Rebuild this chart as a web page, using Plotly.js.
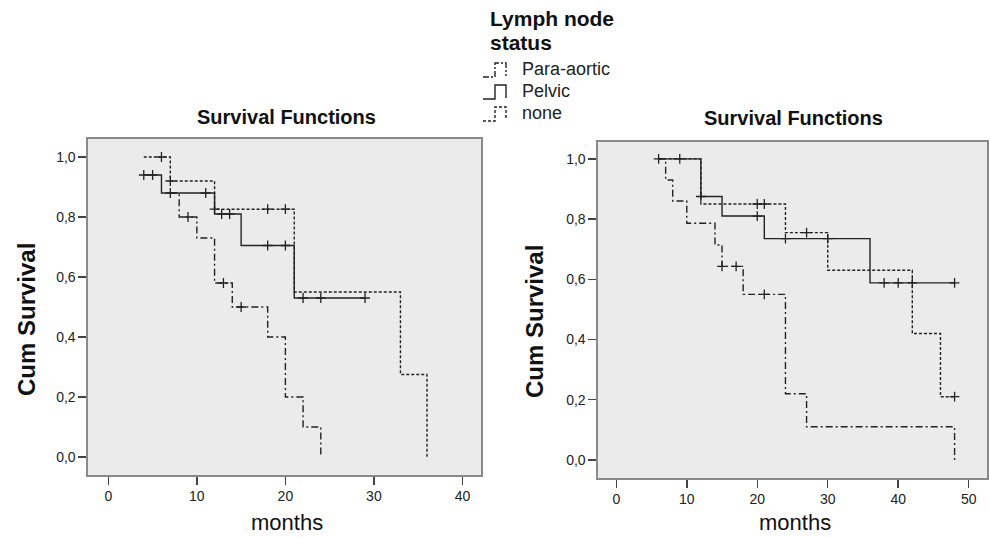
<!DOCTYPE html>
<html>
<head>
<meta charset="utf-8">
<script src="https://cdn.plot.ly/plotly-3.0.1.min.js"></script>
<style>html,body{margin:0;padding:0;background:#fff}#chart{width:990px;height:538px}</style>
</head>
<body>
<div id="chart"></div>
<script>
// ---------- data ----------
// Left panel
const leftParaTime   = [7, 8, 10, 12, 14, 18, 20, 22, 24];
const leftParaSurv   = [0.88, 0.80, 0.73, 0.58, 0.50, 0.40, 0.20, 0.10, 0.0];
const leftParaCensT  = [9, 13, 15];
const leftParaCensS  = [0.80, 0.58, 0.50];

const leftPelvTime   = [4, 6, 12, 15, 21, 29];
const leftPelvSurv   = [0.94, 0.88, 0.81, 0.705, 0.53, 0.53];
const leftPelvCensT  = [4, 5, 7, 11, 12.8, 13.7, 18, 20, 22, 24, 29];
const leftPelvCensS  = [0.94, 0.94, 0.88, 0.88, 0.81, 0.81, 0.705, 0.705, 0.53, 0.53, 0.53];

const leftNoneTime   = [4, 7, 12, 21, 33, 36];
const leftNoneSurv   = [1.0, 0.92, 0.826, 0.55, 0.275, 0.0];
const leftNoneCensT  = [6, 7, 12, 18, 20];
const leftNoneCensS  = [1.0, 0.92, 0.826, 0.826, 0.826];

// Right panel
const rightParaTime  = [6, 7, 8, 10, 14, 15, 18, 24, 27, 48];
const rightParaSurv  = [1.0, 0.93, 0.86, 0.786, 0.714, 0.643, 0.55, 0.22, 0.11, 0.0];
const rightParaCensT = [15, 17, 21];
const rightParaCensS = [0.643, 0.643, 0.55];

const rightPelvTime  = [6, 12, 15, 21, 36, 48];
const rightPelvSurv  = [1.0, 0.875, 0.81, 0.735, 0.588, 0.588];
const rightPelvCensT = [6, 9, 12, 20, 24, 30, 38, 40, 42, 48];
const rightPelvCensS = [1.0, 1.0, 0.875, 0.81, 0.735, 0.735, 0.588, 0.588, 0.588, 0.588];

const rightNoneTime  = [6, 12, 24, 30, 42, 46, 48];
const rightNoneSurv  = [1.0, 0.85, 0.755, 0.63, 0.42, 0.21, 0.21];
const rightNoneCensT = [20, 21, 27, 48];
const rightNoneCensS = [0.85, 0.85, 0.755, 0.21];

const groupNames   = ['Para-aortic', 'Pelvic', 'none'];
const yTickVals    = [0, 0.2, 0.4, 0.6, 0.8, 1.0];
const yTickText    = ['0,0', '0,2', '0,4', '0,6', '0,8', '1,0'];
const leftXTicks   = [0, 10, 20, 30, 40];
const rightXTicks  = [0, 10, 20, 30, 40, 50];
const panelTitle   = 'Survival Functions';
const xTitle       = 'months';
const yTitle       = 'Cum Survival';
const legendTitle  = ['Lymph node', 'status'];

// ---------- styling ----------
const INK = '#232323';
const dashes = {
  'Para-aortic': '7px,3px,2px,3px',
  'Pelvic': 'solid',
  'none': '3px,2px'
};
const FONT = 'Liberation Sans, Arial, sans-serif';

function stepTrace(t, s, name, xa, ya) {
  return {
    type: 'scatter', mode: 'lines', x: t, y: s, xaxis: xa, yaxis: ya,
    name: name, showlegend: false, hoverinfo: 'skip',
    line: {shape: 'hv', color: INK, width: 1.4, dash: dashes[name]}
  };
}
function censTrace(t, s, name, xa, ya) {
  return {
    type: 'scatter', mode: 'markers', x: t, y: s, xaxis: xa, yaxis: ya,
    name: name + ' censored', showlegend: false, hoverinfo: 'skip',
    marker: {symbol: 'cross-thin-open', size: 7, color: INK, line: {color: INK, width: 1.3}}
  };
}

const traces = [
  stepTrace(leftParaTime, leftParaSurv, groupNames[0], 'x', 'y'),
  stepTrace(leftPelvTime, leftPelvSurv, groupNames[1], 'x', 'y'),
  stepTrace(leftNoneTime, leftNoneSurv, groupNames[2], 'x', 'y'),
  censTrace(leftParaCensT, leftParaCensS, groupNames[0], 'x', 'y'),
  censTrace(leftPelvCensT, leftPelvCensS, groupNames[1], 'x', 'y'),
  censTrace(leftNoneCensT, leftNoneCensS, groupNames[2], 'x', 'y'),
  stepTrace(rightParaTime, rightParaSurv, groupNames[0], 'x2', 'y2'),
  stepTrace(rightPelvTime, rightPelvSurv, groupNames[1], 'x2', 'y2'),
  stepTrace(rightNoneTime, rightNoneSurv, groupNames[2], 'x2', 'y2'),
  censTrace(rightParaCensT, rightParaCensS, groupNames[0], 'x2', 'y2'),
  censTrace(rightPelvCensT, rightPelvCensS, groupNames[1], 'x2', 'y2'),
  censTrace(rightNoneCensT, rightNoneCensS, groupNames[2], 'x2', 'y2')
];

const W = 990, H = 538;
const px = x => x / W;
const py = y => 1 - y / H;

function xAxis(domain, range, ticks, anchor) {
  return {
    domain: domain, range: range, anchor: anchor,
    tickvals: ticks, ticktext: ticks.map(String),
    ticks: 'outside', ticklen: 8, tickwidth: 1.5, tickcolor: '#444',
    tickfont: {family: FONT, size: 14, color: '#222'},
    showgrid: false, zeroline: false,
    showline: true, mirror: true, linecolor: '#8a8a8a', linewidth: 1.6,
    fixedrange: true
  };
}
function yAxis(domain, range, anchor) {
  return {
    domain: domain, range: range, anchor: anchor,
    tickvals: yTickVals, ticktext: yTickText,
    ticks: 'outside', ticklen: 8, tickwidth: 1.5, tickcolor: '#444',
    tickfont: {family: FONT, size: 14, color: '#222'},
    showgrid: false, zeroline: false,
    showline: true, mirror: true, linecolor: '#8a8a8a', linewidth: 1.6,
    fixedrange: true
  };
}

function ann(text, x, y, opts) {
  return Object.assign({
    text: text, xref: 'paper', yref: 'paper', x: px(x), y: py(y),
    xanchor: 'center', yanchor: 'middle', showarrow: false,
    font: {family: FONT, size: 17, color: '#111'}
  }, opts || {});
}

const annotations = [
  ann(panelTitle, 286, 117, {font: {family: FONT, size: 20, color: '#111', weight: 'bold'}}),
  ann(panelTitle, 793, 118, {font: {family: FONT, size: 20, color: '#111', weight: 'bold'}}),
  ann(xTitle, 287, 522, {font: {family: FONT, size: 22, color: '#111'}}),
  ann(xTitle, 795, 522, {font: {family: FONT, size: 22, color: '#111'}}),
  ann(yTitle, 26, 320, {textangle: -90, font: {family: FONT, size: 24, color: '#111', weight: 'bold'}}),
  ann(yTitle, 534, 322, {textangle: -90, font: {family: FONT, size: 24, color: '#111', weight: 'bold'}}),
  ann(legendTitle[0], 488, 19, {xanchor: 'left', font: {family: FONT, size: 21, color: '#111', weight: 'bold'}}),
  ann(legendTitle[1], 488, 42, {xanchor: 'left', font: {family: FONT, size: 21, color: '#111', weight: 'bold'}}),
  ann(groupNames[0], 520, 69, {xanchor: 'left', font: {family: FONT, size: 18, color: '#222'}}),
  ann(groupNames[1], 520, 91, {xanchor: 'left', font: {family: FONT, size: 18, color: '#222'}}),
  ann(groupNames[2], 520, 113, {xanchor: 'left', font: {family: FONT, size: 18, color: '#222'}})
];

// legend key icons (small step glyphs)
function iconPath(yBase) {
  const pts = [[483, yBase], [495, yBase], [495, yBase - 14], [506, yBase - 14], [506, yBase - 1]];
  return 'M ' + pts.map(p => px(p[0]) + ' ' + py(p[1])).join(' L ');
}
const iconBases = [77, 99, 121];
const shapes = groupNames.map((g, i) => ({
  type: 'path', xref: 'paper', yref: 'paper', path: iconPath(iconBases[i]),
  line: {color: INK, width: 1.4, dash: g === 'Pelvic' ? 'solid' : (g === 'none' ? '3px,2px' : '6px,2px,2px,2px')}
}));

const layout = {
  width: W, height: H,
  margin: {l: 0, r: 0, t: 0, b: 0},
  paper_bgcolor: '#ffffff',
  plot_bgcolor: '#ebebeb',
  showlegend: false,
  xaxis: xAxis([px(88), px(481)], [-2.3, 42.1], leftXTicks, 'y'),
  yaxis: yAxis([py(475), py(139)], [-0.06, 1.06], 'x'),
  xaxis2: xAxis([px(598), px(987)], [-2.6, 52.6], rightXTicks, 'y2'),
  yaxis2: yAxis([py(478), py(142)], [-0.06, 1.056], 'x2'),
  annotations: annotations,
  shapes: shapes
};

Plotly.newPlot('chart', traces, layout, {staticPlot: true, displayModeBar: false});
</script>
</body>
</html>
